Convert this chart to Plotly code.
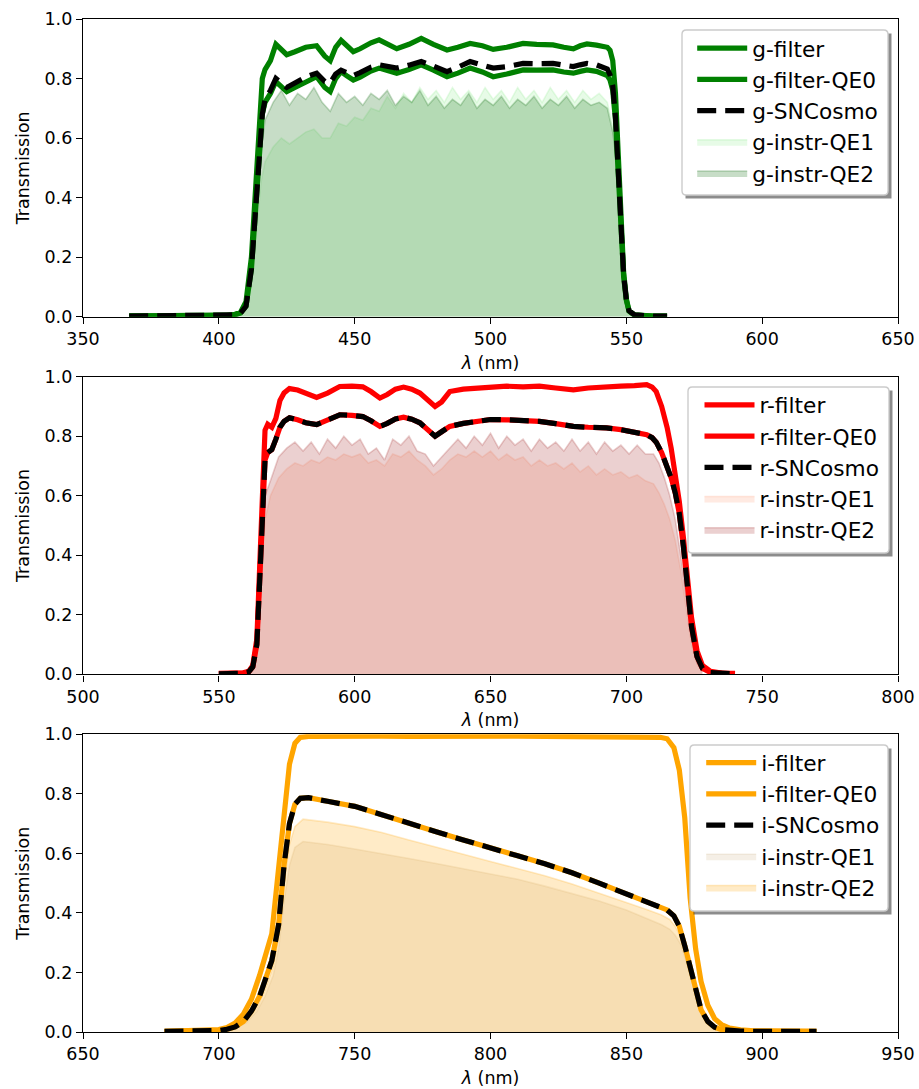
import plotly.graph_objects as go
from plotly.subplots import make_subplots

# ---------------- g band ----------------
g_wl = [367, 380, 395, 403, 406, 408, 410, 412, 413, 414,
        415, 416, 417, 419, 421, 423, 425, 428, 432, 436,
        439, 441, 443, 445, 447, 449.5, 452, 456, 459, 462,
        465.5, 470, 474.5, 479, 484, 488, 492.5, 497, 501, 506,
        512, 517, 523, 527, 530.5, 533, 535.5, 539, 541.5, 543,
        544, 545, 546, 547, 548, 549, 550, 551, 553, 556,
        560, 565]
g_filter = [0.003, 0.003, 0.003, 0.004, 0.008, 0.015, 0.05, 0.2, 0.35, 0.52,
            0.7, 0.8, 0.83, 0.86, 0.915, 0.895, 0.88, 0.89, 0.905, 0.91,
            0.875, 0.86, 0.905, 0.928, 0.91, 0.89, 0.9, 0.92, 0.93, 0.915,
            0.9, 0.915, 0.935, 0.915, 0.896, 0.905, 0.918, 0.91, 0.898, 0.905,
            0.918, 0.915, 0.913, 0.905, 0.9, 0.91, 0.916, 0.912, 0.91, 0.905,
            0.895, 0.86, 0.75, 0.55, 0.33, 0.15, 0.06, 0.02, 0.006, 0.003,
            0.002, 0.002]
g_filter_qe0 = [0.002, 0.002, 0.002, 0.003, 0.006, 0.012, 0.035, 0.16, 0.29, 0.43,
                0.59, 0.68, 0.72, 0.75, 0.79, 0.772, 0.756, 0.77, 0.79, 0.806,
                0.77, 0.756, 0.8, 0.823, 0.81, 0.795, 0.805, 0.825, 0.835, 0.828,
                0.818, 0.83, 0.846, 0.828, 0.806, 0.818, 0.835, 0.822, 0.806, 0.815,
                0.829, 0.828, 0.829, 0.822, 0.818, 0.824, 0.829, 0.824, 0.818, 0.81,
                0.795, 0.76, 0.66, 0.49, 0.3, 0.135, 0.055, 0.018, 0.005, 0.003,
                0.002, 0.002]
g_sncosmo = [0.002, 0.002, 0.002, 0.003, 0.006, 0.012, 0.035, 0.16, 0.29, 0.43,
             0.59, 0.68, 0.73, 0.76, 0.80, 0.785, 0.77, 0.785, 0.805, 0.818,
             0.79, 0.785, 0.815, 0.828, 0.82, 0.81, 0.82, 0.838, 0.846, 0.84,
             0.835, 0.845, 0.857, 0.842, 0.823, 0.838, 0.857, 0.845, 0.835, 0.84,
             0.851, 0.85, 0.851, 0.845, 0.84, 0.846, 0.851, 0.846, 0.84, 0.832,
             0.812, 0.775, 0.67, 0.5, 0.31, 0.14, 0.058, 0.02, 0.006, 0.003,
             0.002, 0.002]
g_fill_wl = [404, 407, 410, 412, 414, 415.5,
             417, 420, 423, 426, 429, 432, 435, 438, 441, 444,
             447, 450, 453, 456, 459, 462, 465, 468, 471, 474,
             477, 480, 483, 486, 489, 492, 495, 498, 501, 504,
             507, 510, 513, 516, 519, 522, 525, 528, 531, 534,
             537, 540, 543,
             545, 546, 547, 548, 549, 550, 552]
g_instr_qe1 = [0.0, 0.004, 0.025, 0.12, 0.3, 0.45,
               0.52, 0.57, 0.6, 0.58, 0.6, 0.62, 0.63, 0.6, 0.6, 0.65,
               0.64, 0.67, 0.66, 0.7, 0.69, 0.74, 0.7, 0.75, 0.72, 0.77,
               0.73, 0.76, 0.72, 0.77, 0.73, 0.76, 0.72, 0.77, 0.73, 0.76,
               0.72, 0.77, 0.73, 0.76, 0.72, 0.77, 0.73, 0.76, 0.72, 0.76,
               0.73, 0.75, 0.72,
               0.64, 0.56, 0.43, 0.27, 0.12, 0.05, 0.01]
g_instr_qe2 = [0.0, 0.005, 0.03, 0.15, 0.38, 0.55,
               0.66, 0.72, 0.76, 0.71, 0.75, 0.73, 0.77, 0.72, 0.69, 0.75,
               0.72, 0.74, 0.71, 0.75, 0.73, 0.76, 0.71, 0.74, 0.72, 0.76,
               0.71, 0.74, 0.70, 0.73, 0.71, 0.75, 0.70, 0.73, 0.71, 0.74,
               0.70, 0.73, 0.71, 0.74, 0.70, 0.73, 0.71, 0.74, 0.70, 0.73,
               0.71, 0.72, 0.70,
               0.62, 0.55, 0.42, 0.26, 0.12, 0.05, 0.01]

# ---------------- r band ----------------
r_wl = [550, 555, 559, 561, 562.5, 564, 565, 566, 567, 568,
        569.5, 571, 572.5, 574, 576, 579, 582, 586, 590, 594.5,
        599, 603, 606, 609.3, 612, 615, 618, 621, 624, 627,
        629.6, 632, 635, 640, 645, 650, 656, 662, 668, 674,
        680.5, 686, 692.7, 698, 703, 707.5, 709.5, 711, 713, 715,
        716.5, 718, 719.5, 721, 722.5, 724, 726, 728, 731, 735,
        740]
r_filter = [0.003, 0.003, 0.005, 0.01, 0.03, 0.12, 0.35, 0.62, 0.82, 0.84,
            0.83, 0.86, 0.92, 0.945, 0.96, 0.955, 0.945, 0.93, 0.945, 0.967,
            0.968, 0.966, 0.95, 0.928, 0.94, 0.958, 0.965, 0.958, 0.945, 0.92,
            0.9, 0.915, 0.95, 0.958, 0.962, 0.967, 0.968, 0.966, 0.968, 0.962,
            0.956, 0.962, 0.967, 0.968, 0.97, 0.973, 0.965, 0.95, 0.9, 0.83,
            0.76, 0.68, 0.58, 0.46, 0.32, 0.19, 0.08, 0.03, 0.01, 0.004,
            0.003]
r_filter_qe0 = [0.002, 0.002, 0.004, 0.008, 0.025, 0.1, 0.3, 0.55, 0.72, 0.745,
                0.755, 0.79, 0.83, 0.85, 0.862, 0.855, 0.845, 0.839, 0.855, 0.872,
                0.87, 0.866, 0.852, 0.833, 0.843, 0.858, 0.864, 0.857, 0.845, 0.82,
                0.80, 0.815, 0.833, 0.843, 0.85, 0.856, 0.855, 0.852, 0.85, 0.842,
                0.833, 0.83, 0.828, 0.822, 0.815, 0.805, 0.795, 0.78, 0.745, 0.70,
                0.66, 0.61, 0.54, 0.43, 0.29, 0.16, 0.06, 0.02, 0.006, 0.003,
                0.002]
r_sncosmo = [0.002, 0.002, 0.004, 0.008, 0.025, 0.1, 0.3, 0.55, 0.72, 0.745,
             0.755, 0.79, 0.83, 0.85, 0.862, 0.855, 0.845, 0.839, 0.855, 0.872,
             0.87, 0.866, 0.852, 0.833, 0.843, 0.858, 0.864, 0.857, 0.845, 0.82,
             0.80, 0.815, 0.833, 0.843, 0.85, 0.856, 0.855, 0.852, 0.85, 0.842,
             0.833, 0.83, 0.828, 0.822, 0.815, 0.805, 0.795, 0.78, 0.745, 0.70,
             0.66, 0.61, 0.54, 0.43, 0.29, 0.16, 0.06, 0.02, 0.006, 0.003,
             0.002]
r_fill_wl = [559, 562, 564, 565, 566, 567,
             569, 572, 575, 578, 581, 584, 587, 590, 593, 596,
             599, 602, 605, 608, 611, 614, 617, 620, 623, 626,
             629, 632, 635, 638, 641, 644, 647, 650, 653, 656,
             659, 662, 665, 668, 671, 674, 677, 680, 683, 686,
             689, 692, 695, 698, 701, 704, 707, 710,
             712, 714, 716, 718, 720, 722, 724, 726, 728]
r_instr_qe1 = [0.002, 0.015, 0.06, 0.2, 0.38, 0.52,
               0.6, 0.66, 0.69, 0.71, 0.7, 0.72, 0.71, 0.73, 0.72, 0.74,
               0.73, 0.74, 0.71, 0.72, 0.7, 0.74, 0.73, 0.75, 0.72, 0.7,
               0.67, 0.69, 0.72, 0.74, 0.73, 0.75, 0.73, 0.75, 0.72, 0.74,
               0.72, 0.73, 0.7, 0.72, 0.7, 0.71, 0.69, 0.71, 0.68, 0.7,
               0.67, 0.69, 0.67, 0.68, 0.66, 0.67, 0.65, 0.64,
               0.61, 0.57, 0.52, 0.45, 0.35, 0.22, 0.1, 0.035, 0.008]
r_instr_qe2 = [0.003, 0.02, 0.08, 0.25, 0.45, 0.6,
               0.65, 0.73, 0.76, 0.78, 0.75, 0.78, 0.74, 0.79, 0.76, 0.8,
               0.77, 0.79, 0.74, 0.76, 0.72, 0.79, 0.77, 0.8, 0.75, 0.74,
               0.7, 0.73, 0.76, 0.79, 0.76, 0.8, 0.77, 0.81, 0.76, 0.8,
               0.77, 0.79, 0.75, 0.79, 0.76, 0.78, 0.75, 0.79, 0.75, 0.78,
               0.74, 0.78, 0.75, 0.77, 0.74, 0.77, 0.74, 0.74,
               0.71, 0.66, 0.6, 0.52, 0.4, 0.25, 0.12, 0.04, 0.01]

# ---------------- i band ----------------
i_wl = [680, 690, 697, 700, 703, 706, 709, 712, 715, 717,
        719.5, 722, 724, 726, 728, 730, 733, 740, 750, 760,
        770, 780, 790, 800, 810, 820, 830, 840, 850, 858,
        862.5, 865, 867.5, 869.5, 871.5, 873.5, 875.5, 877.5, 880, 882.5,
        885, 888, 892, 897, 905, 912, 920]
i_filter = [0.002, 0.003, 0.005, 0.008, 0.015, 0.03, 0.06, 0.11, 0.19, 0.25,
            0.33, 0.55, 0.74, 0.9, 0.97, 0.99, 0.993, 0.994, 0.993, 0.994,
            0.993, 0.994, 0.993, 0.993, 0.994, 0.993, 0.993, 0.994, 0.993, 0.993,
            0.99, 0.985, 0.955, 0.88, 0.72, 0.45, 0.28, 0.17, 0.09, 0.045,
            0.025, 0.013, 0.007, 0.004, 0.003, 0.002, 0.002]
i_filter_qe0 = [0.002, 0.002, 0.003, 0.005, 0.009, 0.017, 0.035, 0.07, 0.12, 0.17,
                0.24, 0.36, 0.56, 0.70, 0.765, 0.785, 0.787, 0.775, 0.758, 0.73,
                0.70, 0.673, 0.645, 0.62, 0.592, 0.565, 0.535, 0.50, 0.465, 0.437,
                0.42, 0.41, 0.39, 0.355, 0.29, 0.215, 0.14, 0.075, 0.035, 0.016,
                0.008, 0.005, 0.003, 0.002, 0.002, 0.002, 0.002]
i_sncosmo = [0.002, 0.002, 0.003, 0.005, 0.009, 0.017, 0.035, 0.07, 0.12, 0.17,
             0.24, 0.36, 0.56, 0.70, 0.765, 0.785, 0.787, 0.775, 0.758, 0.73,
             0.70, 0.673, 0.645, 0.62, 0.592, 0.565, 0.535, 0.50, 0.465, 0.437,
             0.42, 0.41, 0.39, 0.355, 0.29, 0.215, 0.14, 0.075, 0.035, 0.016,
             0.008, 0.005, 0.003, 0.002, 0.002, 0.002, 0.002]
i_fill_wl = [700, 705, 710, 714, 717, 720, 722, 724, 726, 728,
             731, 740, 750, 760, 770, 780, 790, 800, 810, 820,
             830, 840, 850, 858, 863, 866, 868, 870, 872, 874,
             876, 878, 880, 883, 886, 890]
i_instr_qe1 = [0.003, 0.01, 0.03, 0.07, 0.12, 0.19, 0.28, 0.44, 0.56, 0.62,
               0.64, 0.63, 0.615, 0.6, 0.583, 0.566, 0.548, 0.53, 0.513, 0.49,
               0.465, 0.44, 0.41, 0.38, 0.36, 0.345, 0.325, 0.295, 0.24, 0.175,
               0.11, 0.065, 0.03, 0.012, 0.005, 0.002]
i_instr_qe2 = [0.004, 0.012, 0.035, 0.08, 0.14, 0.22, 0.32, 0.5, 0.63, 0.69,
               0.715, 0.705, 0.69, 0.67, 0.645, 0.62, 0.597, 0.573, 0.55, 0.525,
               0.497, 0.467, 0.435, 0.41, 0.393, 0.378, 0.355, 0.32, 0.26, 0.19,
               0.12, 0.07, 0.035, 0.014, 0.006, 0.002]

x_ranges = [[350, 650], [500, 800], [650, 950]]
y_ticks = [0.0, 0.2, 0.4, 0.6, 0.8, 1.0]

# ---------------- figure ----------------
W, H = 919, 1089
ML, MR, MT, MB = 83, 21, 19, 57
PW, PH = W - ML - MR, H - MT - MB

def xp(px):
    return (px - ML) / PW

def yp(py):
    return (H - MB - py) / PH

fig = make_subplots(rows=3, cols=1, vertical_spacing=60 / PH)

panels = [
    dict(row=1, b='g', wl=g_wl, f=g_filter, q0=g_filter_qe0, sn=g_sncosmo,
         fwl=g_fill_wl, q1=g_instr_qe1, q2=g_instr_qe2, col='green',
         c1='rgba(144,238,144,0.22)', c2='rgba(0,100,0,0.22)', leg='legend'),
    dict(row=2, b='r', wl=r_wl, f=r_filter, q0=r_filter_qe0, sn=r_sncosmo,
         fwl=r_fill_wl, q1=r_instr_qe1, q2=r_instr_qe2, col='red',
         c1='rgba(255,160,122,0.22)', c2='rgba(165,42,42,0.22)', leg='legend2'),
    dict(row=3, b='i', wl=i_wl, f=i_filter, q0=i_filter_qe0, sn=i_sncosmo,
         fwl=i_fill_wl, q1=i_instr_qe1, q2=i_instr_qe2, col='orange',
         c1='rgba(210,180,140,0.22)', c2='rgba(255,165,0,0.22)', leg='legend3'),
]

LW = 5.2
for p in panels:
    r = p['row']
    fig.add_trace(go.Scatter(x=p['fwl'], y=p['q1'], mode='lines', fill='tozeroy',
                             fillcolor=p['c1'], line=dict(color=p['c1'], width=1.6),
                             name=f"{p['b']}-instr-QE1", legend=p['leg'], legendrank=4),
                  row=r, col=1)
    fig.add_trace(go.Scatter(x=p['fwl'], y=p['q2'], mode='lines', fill='tozeroy',
                             fillcolor=p['c2'], line=dict(color=p['c2'], width=1.6),
                             name=f"{p['b']}-instr-QE2", legend=p['leg'], legendrank=5),
                  row=r, col=1)
    fig.add_trace(go.Scatter(x=p['wl'], y=p['f'], mode='lines',
                             line=dict(color=p['col'], width=LW),
                             name=f"{p['b']}-filter", legend=p['leg'], legendrank=1),
                  row=r, col=1)
    fig.add_trace(go.Scatter(x=p['wl'], y=p['q0'], mode='lines',
                             line=dict(color=p['col'], width=LW),
                             name=f"{p['b']}-filter-QE0", legend=p['leg'], legendrank=2),
                  row=r, col=1)
    fig.add_trace(go.Scatter(x=p['wl'], y=p['sn'], mode='lines',
                             line=dict(color='black', width=LW, dash='19px,9px'),
                             name=f"{p['b']}-SNCosmo", legend=p['leg'], legendrank=3),
                  row=r, col=1)
    fig.update_xaxes(range=x_ranges[r - 1], row=r, col=1)

FS_TICK = 17.5
FS_LEG = 21.7
FONT = 'DejaVu Sans'

fig.update_xaxes(showline=True, mirror=True, linecolor='black', linewidth=1.4,
                 ticks='outside', ticklen=6, tickwidth=1.4, tickcolor='black',
                 showgrid=False, zeroline=False, dtick=50, automargin=False,
                 tickfont=dict(size=FS_TICK, family=FONT, color='black'),
                 title=dict(text='<i>λ</i> (nm)', standoff=8,
                            font=dict(size=FS_TICK, family=FONT, color='black')))
fig.update_yaxes(showline=True, mirror=True, linecolor='black', linewidth=1.4,
                 ticks='outside', ticklen=6, tickwidth=1.4, tickcolor='black',
                 showgrid=False, zeroline=False, range=[0, 1], tickvals=y_ticks,
                 tickformat='.1f', automargin=False,
                 tickfont=dict(size=FS_TICK, family=FONT, color='black'),
                 title=dict(text='Transmission', standoff=10,
                            font=dict(size=FS_TICK, family=FONT, color='black')))

# legend boxes (measured in pixels): left, top, right, bottom, text-start, first-row-centre
boxes = [(682, 30, 888, 195, 752.7, 48.3),
         (688, 387, 889, 553, 760, 405),
         (690, 745, 888, 911, 761.7, 762.7)]
ITEMW = 50
TEXT_OFF = ITEMW + 10.5
shapes = []
legs = {}
rad = 4.3
for k, (x0, y0, x1, y1, tx, ry) in enumerate(boxes):
    shapes.append(dict(type='rect', xref='paper', yref='paper',
                       x0=xp(x0 + 3.5), x1=xp(x1 + 3.5), y0=yp(y1 + 3.5), y1=yp(y0 + 3.5),
                       fillcolor='rgba(0,0,0,0.45)', line=dict(width=0), layer='above'))
    path = (f"M{xp(x0 + rad)},{yp(y0)} L{xp(x1 - rad)},{yp(y0)} "
            f"Q{xp(x1)},{yp(y0)} {xp(x1)},{yp(y0 + rad)} "
            f"L{xp(x1)},{yp(y1 - rad)} Q{xp(x1)},{yp(y1)} {xp(x1 - rad)},{yp(y1)} "
            f"L{xp(x0 + rad)},{yp(y1)} Q{xp(x0)},{yp(y1)} {xp(x0)},{yp(y1 - rad)} "
            f"L{xp(x0)},{yp(y0 + rad)} Q{xp(x0)},{yp(y0)} {xp(x0 + rad)},{yp(y0)} Z")
    shapes.append(dict(type='path', xref='paper', yref='paper', path=path,
                       fillcolor='white', line=dict(color='#cccccc', width=1.4),
                       layer='above'))
    name = 'legend' if k == 0 else f'legend{k + 1}'
    legs[name] = dict(x=xp(tx - TEXT_OFF), y=yp(ry - 20.7), xanchor='left', yanchor='top',
                      bgcolor='rgba(0,0,0,0)', borderwidth=0, tracegroupgap=0,
                      itemwidth=ITEMW,
                      font=dict(size=FS_LEG, family=FONT, color='black'))

fig.update_layout(width=W, height=H,
                  margin=dict(l=ML, r=MR, t=MT, b=MB, autoexpand=False),
                  paper_bgcolor='white', plot_bgcolor='white',
                  font=dict(family=FONT, size=FS_TICK, color='black'),
                  showlegend=True, shapes=shapes, **legs)

fig.write_html("out.html")
